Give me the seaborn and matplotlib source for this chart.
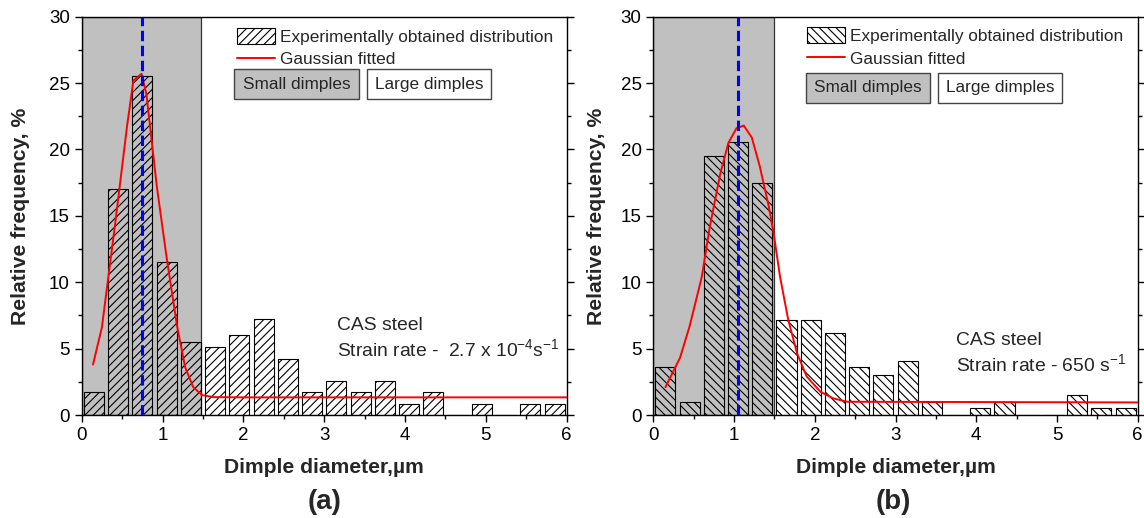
import numpy as np
import matplotlib
matplotlib.use("Agg")
import matplotlib.pyplot as plt
import seaborn as sns
from matplotlib.patches import Patch, Rectangle
from matplotlib.lines import Line2D

# bin centres (0.3 um bins) shared by both panels
bin_centers = [0.15, 0.45, 0.75, 1.05, 1.35, 1.65, 1.95, 2.25, 2.55, 2.85,
               3.15, 3.45, 3.75, 4.05, 4.35, 4.65, 4.95, 5.25, 5.55, 5.85]

# (a) strain rate 2.7e-4 s^-1
freq_a = [1.7, 17.0, 25.5, 11.5, 5.5, 5.1, 6.0, 7.2, 4.25, 1.7,
          2.55, 1.7, 2.55, 0.85, 1.7, 0.0, 0.85, 0.0, 0.85, 0.85]
fit_x_a = [0.14, 0.25, 0.33, 0.41, 0.47, 0.56, 0.64, 0.74, 0.80, 0.93,
           1.05, 1.18, 1.28, 1.38, 1.49, 1.63, 2.0, 6.0]
fit_y_a = [3.8, 6.6, 10.4, 14.2, 17.2, 21.7, 25.2, 25.7, 24.2, 17.2,
           11.9, 6.7, 3.6, 2.1, 1.5, 1.35, 1.33, 1.33]
mean_a = 0.74
small_edge_a = 1.47

# (b) strain rate 650 s^-1
freq_b = [3.6, 1.0, 19.5, 20.55, 17.45, 7.15, 7.15, 6.15, 3.6, 3.05,
          4.05, 1.0, 0.0, 0.5, 1.0, 0.0, 0.0, 1.5, 0.5, 0.5]
fit_x_b = [0.15, 0.33, 0.45, 0.60, 0.70, 0.83, 0.93, 1.03, 1.12, 1.22,
           1.32, 1.43, 1.49, 1.57, 1.67, 1.78, 1.90, 2.07, 2.23, 2.40, 6.0]
fit_y_b = [2.1, 4.3, 6.7, 10.4, 14.2, 18.2, 20.5, 21.6, 21.8, 20.9,
           18.7, 15.7, 13.7, 10.4, 7.2, 4.65, 2.9, 1.75, 1.25, 1.0, 0.95]
mean_b = 1.045
small_edge_b = 1.5

sns.set_style("ticks")
plt.rcParams["font.family"] = ["Liberation Sans", "DejaVu Sans"]
plt.rcParams["hatch.linewidth"] = 0.8
plt.rcParams["mathtext.default"] = "regular"

fig = plt.figure(figsize=(11.44, 5.18), dpi=100)
ax_a = fig.add_axes([0.0714, 0.1988, 0.4240, 0.7689])
ax_b = fig.add_axes([0.5711, 0.1988, 0.4234, 0.7689])


def draw_panel(ax, freq, fit_x, fit_y, mean, small_edge, hatch, leg_xy, box_y, note, note_xy, ylab_x):
    ax.axvspan(0, small_edge, facecolor="#c0c0c0", edgecolor="#333333", lw=0.9, zorder=0.5)

    sns.barplot(x=bin_centers, y=freq, native_scale=True, width=0.83, errorbar=None,
                ax=ax, zorder=2)
    for bar in ax.containers[0]:
        bar.set_facecolor("none")
        bar.set_edgecolor("black")
        bar.set_linewidth(0.8)
        bar.set_hatch(hatch)

    sns.lineplot(x=fit_x, y=fit_y, sort=False, estimator=None, color="red", lw=1.4,
                 ax=ax, zorder=3)
    ax.axvline(mean, color="blue", lw=2.2, ls=(0, (3.4, 1.5)), zorder=4)

    ax.set_xlim(0, 6)
    ax.set_ylim(0, 30)
    ax.set_xticks(range(0, 7))
    ax.set_yticks(range(0, 31, 5))
    ax.set_xticks(np.arange(0.5, 6, 1), minor=True)
    ax.set_yticks(np.arange(2.5, 30, 5), minor=True)
    ax.tick_params(which="both", direction="out", width=1, right=True, top=False,
                   labelsize=13.5, colors="black")
    ax.tick_params(which="major", length=5)
    ax.tick_params(which="minor", length=3)
    for sp in ax.spines.values():
        sp.set_visible(True)
        sp.set_linewidth(1.0)
        sp.set_color("black")

    ax.set_xlabel("Dimple diameter,\u00b5m", fontsize=15.2, fontweight="bold")
    ax.set_ylabel("Relative frequency, %", fontsize=15.2, fontweight="bold")
    ax.xaxis.label.set_va("center")
    ax.yaxis.label.set_va("center")
    ax.xaxis.set_label_coords(0.5, -0.131)
    ax.yaxis.set_label_coords(ylab_x, 0.5)

    handles = [Patch(facecolor="white", edgecolor="black", lw=0.8, hatch=hatch),
               Line2D([], [], color="red", lw=1.4)]
    ax.legend(handles, ["Experimentally obtained distribution", "Gaussian fitted"],
              loc="upper left", bbox_to_anchor=leg_xy, frameon=False, fontsize=12.4,
              handlelength=2.22, handleheight=1.03, handletextpad=0.3,
              labelspacing=0.35, borderpad=0, borderaxespad=0)

    for x0, label, face in [(0.315, "Small dimples", "#c0c0c0"), (0.588, "Large dimples", "white")]:
        ax.add_patch(Rectangle((x0, box_y), 0.256, 0.077, transform=ax.transAxes,
                               facecolor=face, edgecolor="#444444", lw=1.0, zorder=5))
        ax.text(x0 + 0.128, box_y + 0.0385, label, transform=ax.transAxes,
                ha="center", va="center", fontsize=12.4, zorder=6)

    ax.text(note_xy[0], note_xy[1], "CAS steel", fontsize=13.9, va="center", ha="left")
    ax.text(note_xy[0], note_xy[1] - 1.8, note, fontsize=13.9, va="center", ha="left")


draw_panel(ax_a, freq_a, fit_x_a, fit_y_a, mean_a, small_edge_a, "////",
           (0.3196, 0.972), 0.7926,
           r"Strain rate -  2.7 x 10$^{-4}$s$^{-1}$", (3.155, 6.78), -0.126)
draw_panel(ax_b, freq_b, fit_x_b, fit_y_b, mean_b, small_edge_b, "\\\\\\\\",
           (0.3167, 0.974), 0.7826,
           r"Strain rate - 650 s$^{-1}$", (3.75, 5.65), -0.118)

fig.text(325 / 1144, 1 - 502 / 518, "(a)", ha="center", va="center", fontsize=20, fontweight="bold")
fig.text(893 / 1144, 1 - 502 / 518, "(b)", ha="center", va="center", fontsize=20, fontweight="bold")

fig.savefig("out.png", dpi=100)
